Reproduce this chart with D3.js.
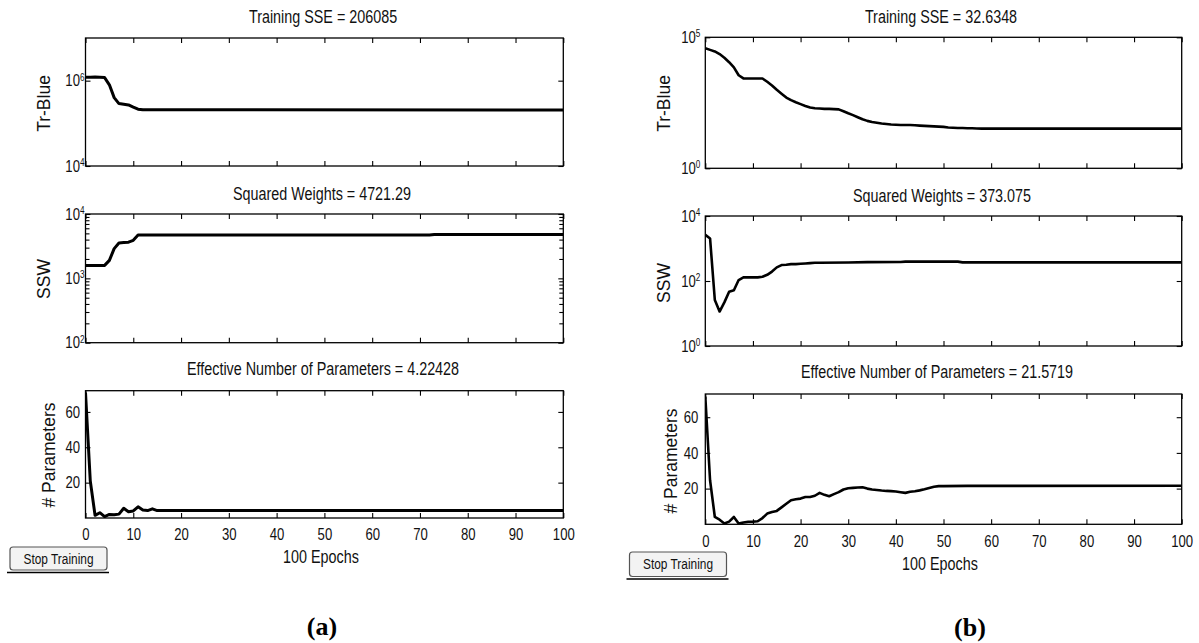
<!DOCTYPE html>
<html><head><meta charset="utf-8">
<script src="https://cdn.jsdelivr.net/npm/d3@7"></script>
<style>
body{margin:0;background:#fff;}
svg{display:block;}
text{font-family:"Liberation Sans",Arial,sans-serif;}
text.cap{font-family:"Liberation Serif","Times New Roman",serif;font-weight:bold;}
</style></head><body>
<svg id="c" width="1199" height="643"></svg>
<script>
// ---------------- data ----------------
const epochTicks = [0,10,20,30,40,50,60,70,80,90,100];
const paramTicks = [20,40,60];

// (a) left column
const titlesA = ["Training SSE = 206085","Squared Weights = 4721.29","Effective Number of Parameters = 4.22428"];
const sseA = [[0,1.2e6],[1,1.2e6],[2,1.22e6],[3,1.2e6],[4,1.18e6],[5,8.0e5],[6,4.0e5],[7,2.9e5],[8,2.8e5],[9,2.7e5],[10,2.4e5],[11,2.15e5],[12,2.07e5],[100,206085]];
const sswA = [[0,1585],[1,1585],[2,1585],[3,1585],[4,1590],[5,1900],[6,2900],[7,3550],[8,3600],[9,3650],[10,3900],[11,4700],[12,4721.29],[72,4721.29],[73,4790],[100,4790]];
const parA = [[0,71],[1,21],[2,1.5],[3,3.0],[4,0.8],[5,2.0],[6,1.8],[7,2.2],[8,5.5],[9,3.5],[10,4.0],[11,6.3],[12,4.5],[13,4.2],[14,5.2],[15,4.22],[100,4.22428]];

// (b) right column
const titlesB = ["Training SSE = 32.6348","Squared Weights = 373.075","Effective Number of Parameters = 21.5719"];
const sseB = [[0,38000],[1,33100],[2,28800],[3,22900],[4,16600],[5,11200],[6,7080],[7,3550],[8,2690],[9,2690],[10,2690],[11,2690],[12,2690],[13,2000],[14,1450],[15,1000],[16,708],[17,501],[18,398],[19,331],[20,282],[21,240],[22,209],[23,195],[24,191],[25,186],[26,186],[27,182],[28,178],[29,151],[30,126],[31,107],[32,89.1],[33,74.1],[34,64.6],[35,58.9],[36,55],[37,51.3],[38,49],[39,46.8],[40,45.7],[41,44.7],[42,44.7],[43,44.7],[44,43.7],[45,42.7],[46,41.7],[47,40.7],[48,39.8],[49,38.9],[50,38],[51,36.3],[52,35.5],[53,34.7],[54,34.7],[55,33.9],[56,33.9],[57,33.1],[58,32.7],[100,32.6348]];
const sswB = [[0,2630],[1,2040],[2,26],[3,11.5],[4,22],[5,47],[6,52],[7,107],[8,129],[9,129],[10,129],[11,129],[12,135],[13,155],[14,195],[15,263],[16,309],[17,316],[18,331],[19,331],[20,339],[21,347],[22,355],[23,363],[24,365],[30,370],[34,380],[41,385],[42,395],[53,395],[54,375],[100,373.075]];
const parB = [[0,71.5],[1,24.7],[2,4.1],[3,2.6],[4,0.5],[5,1.5],[6,4.1],[7,0.4],[8,1.0],[9,1.4],[10,1.5],[11,1.7],[12,3.5],[13,6.0],[14,6.9],[15,7.5],[16,9.5],[17,11.5],[18,13.5],[19,14],[20,14.4],[21,15.3],[22,15.3],[23,16.0],[24,17.6],[25,16.5],[26,15.7],[27,16.9],[28,18],[29,19.5],[30,20.2],[31,20.4],[32,20.6],[33,20.7],[34,20],[35,19.5],[36,19.2],[37,18.9],[38,18.7],[39,18.6],[40,18.4],[41,18.0],[42,17.6],[43,18.2],[44,18.5],[45,19],[46,19.6],[47,20.3],[48,21.0],[49,21.4],[50,21.4],[55,21.5],[100,21.5719]];

const yLabels = ["Tr-Blue","SSW","# Parameters"];
const xLabel = "100 Epochs";
const buttonText = "Stop Training";
const captions = ["(a)","(b)"];

// ---------------- drawing ----------------
const svg = d3.select("#c");
const SX = 0.82;   // horizontal condensation (MATLAB narrow look)
let clipId = 0;

function ntext(parent,x,y,size,str,anchor){
  return parent.append("text").attr("transform",`translate(${x},${y}) scale(${SX},1)`)
    .attr("text-anchor",anchor||"middle").attr("font-size",size+"px").attr("fill","#111").text(str);
}
function narrowTicks(sel){
  sel.selectAll(".tick text").each(function(){
    const t=d3.select(this);
    const x=+t.attr("x")||0;
    t.attr("x",x/SX).attr("transform",`scale(${SX},1)`);
  });
}

function supLabel(sel){
  sel.each(function(d){
    const t = d3.select(this);
    const e = Math.round(Math.log10(d));
    t.text(null);
    t.append("tspan").text("10");
    t.append("tspan").attr("dy","-0.55em").attr("font-size","10px").text(e);
  });
}

function panel(cfg){
  const g = svg.append("g");
  const x = d3.scaleLinear().domain([0,100]).range([cfg.x0,cfg.x1]);
  const y = (cfg.log ? d3.scaleLog() : d3.scaleLinear()).domain(cfg.dom).range([cfg.y1,cfg.y0]);

  const bx = g.append("g").attr("transform",`translate(0,${cfg.y1})`)
    .call(d3.axisBottom(x).tickValues(epochTicks).tickSize(-5).tickPadding(cfg.xPad||0)
      .tickFormat(cfg.xLabels ? d3.format("d") : ()=>""));
  g.append("g").attr("transform",`translate(0,${cfg.y0})`)
    .call(d3.axisTop(x).tickValues(epochTicks).tickSize(-5).tickFormat(()=>""));
  const ly = g.append("g").attr("transform",`translate(${cfg.x0},0)`)
    .call(d3.axisLeft(y).tickValues(cfg.ticks).tickSize(-5).tickPadding(cfg.yPad)
      .tickFormat(cfg.log ? (d=>d) : d3.format("d")));
  g.append("g").attr("transform",`translate(${cfg.x1},0)`)
    .call(d3.axisRight(y).tickValues(cfg.ticks).tickSize(-5).tickFormat(()=>""));
  if (cfg.minor){
    g.append("g").attr("transform",`translate(${cfg.x0},0)`)
      .call(d3.axisLeft(y).tickValues(cfg.minor).tickSize(-4).tickFormat(()=>""));
    g.append("g").attr("transform",`translate(${cfg.x1},0)`)
      .call(d3.axisRight(y).tickValues(cfg.minor).tickSize(-4).tickFormat(()=>""));
  }
  g.selectAll(".domain").remove();
  g.selectAll("g").attr("font-family",null);
  g.selectAll(".tick line").attr("stroke","#000").attr("stroke-width",1.1);
  g.selectAll(".tick text").attr("fill","#111").attr("font-size","16px");
  if (cfg.log) ly.selectAll(".tick text").call(supLabel);
  narrowTicks(bx); narrowTicks(ly);

  const id = "clip"+(clipId++);
  g.append("clipPath").attr("id",id).append("rect")
    .attr("x",cfg.x0).attr("y",cfg.y0).attr("width",cfg.x1-cfg.x0).attr("height",cfg.y1-cfg.y0);
  g.append("path").datum(cfg.data).attr("clip-path",`url(#${id})`)
    .attr("fill","none").attr("stroke","#000").attr("stroke-width",cfg.lw)
    .attr("stroke-linejoin","round")
    .attr("d", d3.line().x(d=>x(d[0])).y(d=>y(d[1])));

  g.append("rect").attr("x",cfg.x0).attr("y",cfg.y0).attr("width",cfg.x1-cfg.x0).attr("height",cfg.y1-cfg.y0)
    .attr("fill","none").attr("stroke","#000").attr("stroke-width",1.3);

  ntext(g,cfg.tx,cfg.ty,17.5,cfg.title);
  g.append("text").attr("text-anchor","middle").attr("font-size","17.5px").attr("fill","#111")
    .attr("transform",`translate(${cfg.lx},${cfg.ly}) rotate(-90)`).text(cfg.ylabel);
  return {x,y};
}

function logMinor(lo,hi){
  const out=[];
  for(let e=lo;e<hi;e++) for(let m=2;m<=9;m++) out.push(m*Math.pow(10,e));
  return out;
}

const L = {x0:85.5,x1:563.3}, R = {x0:705.3,x1:1181.7};

panel({...L,y0:38,y1:166,log:true,dom:[1e4,1e7],ticks:[1e4,1e6],yPad:1,data:sseA,lw:3,
  title:titlesA[0],tx:323,ty:23,ylabel:yLabels[0],lx:50,ly:103.5});
panel({...L,y0:214,y1:342.7,log:true,dom:[1e2,1e4],ticks:[1e2,1e3,1e4],minor:logMinor(2,4),yPad:1,data:sswA,lw:3,
  title:titlesA[1],tx:322,ty:200,ylabel:yLabels[1],lx:50,ly:279});
panel({...L,y0:390.7,y1:518,log:false,dom:[0,72],ticks:paramTicks,yPad:5.5,data:parA,lw:3,xLabels:true,xPad:10.5,
  title:titlesA[2],tx:323,ty:375,ylabel:yLabels[2],lx:55,ly:455});

panel({...R,y0:37.3,y1:168.3,log:true,dom:[1e0,1e5],ticks:[1e0,1e5],yPad:5,data:sseB,lw:2.6,
  title:titlesB[0],tx:941,ty:23.3,ylabel:yLabels[0],lx:670,ly:103.5});
panel({...R,y0:216,y1:346,log:true,dom:[1e0,1e4],ticks:[1e0,1e2,1e4],yPad:5,data:sswB,lw:2.6,
  title:titlesB[1],tx:942,ty:201.7,ylabel:yLabels[1],lx:670,ly:283});
panel({...R,y0:394,y1:524.3,log:false,dom:[0,73],ticks:paramTicks,yPad:7,data:parB,lw:2.6,xLabels:true,xPad:11.3,
  title:titlesB[2],tx:937,ty:378.3,ylabel:yLabels[2],lx:677,ly:461});

ntext(svg,321,563,17.5,xLabel);
ntext(svg,940,570,17.5,xLabel);

function button(x,y,w,h){
  svg.append("rect").attr("x",x).attr("y",y).attr("width",w).attr("height",h).attr("rx",3)
    .attr("fill","#f3f3f3").attr("stroke","#555").attr("stroke-width",1.2);
  ntext(svg,x+w/2,y+h/2+5,14.5,buttonText);
  svg.append("line").attr("x1",x-3).attr("x2",x+w+2).attr("y1",y+h+2.5).attr("y2",y+h+2.5)
    .attr("stroke","#000").attr("stroke-width",1.5);
}
button(10,547,97,23);
button(629.5,552,97,24.5);

svg.append("text").attr("class","cap").attr("x",322).attr("y",635).attr("text-anchor","middle")
  .attr("font-size","26px").text(captions[0]);
svg.append("text").attr("class","cap").attr("x",970).attr("y",636).attr("text-anchor","middle")
  .attr("font-size","26px").text(captions[1]);
</script>
</body></html>
